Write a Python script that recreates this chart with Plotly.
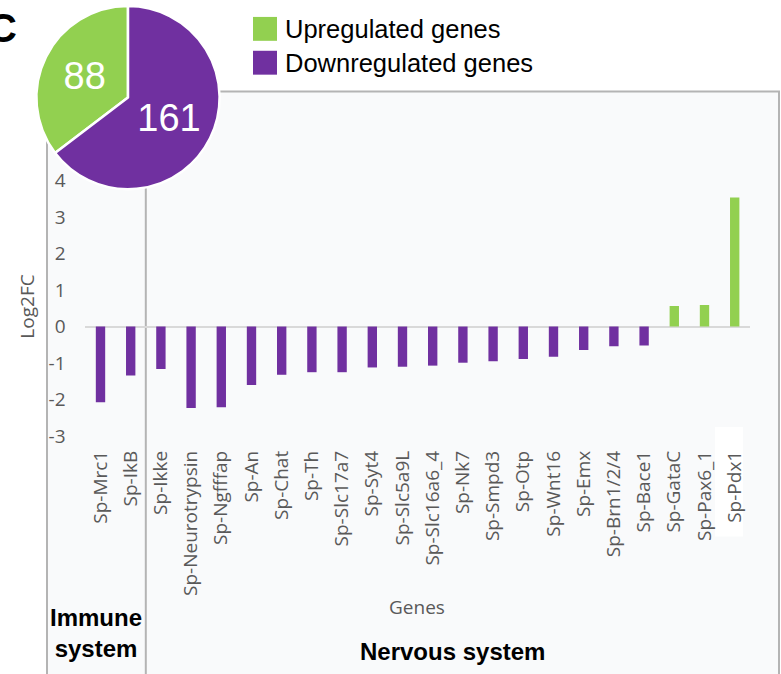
import plotly.graph_objects as go

# ---- data -------------------------------------------------------------
genes = ["Sp-Mrc1", "Sp-IkB", "Sp-Ikke", "Sp-Neurotrypsin", "Sp-Ngfffap", "Sp-An",
         "Sp-Chat", "Sp-Th", "Sp-Slc17a7", "Sp-Syt4", "Sp-Slc5a9L", "Sp-Slc16a6_4",
         "Sp-Nk7", "Sp-Smpd3", "Sp-Otp", "Sp-Wnt16", "Sp-Emx", "Sp-Brn1/2/4",
         "Sp-Bace1", "Sp-GataC", "Sp-Pax6_1", "Sp-Pdx1"]
log2fc = [-2.07, -1.34, -1.16, -2.23, -2.21, -1.60, -1.32, -1.25, -1.25, -1.12, -1.10,
          -1.07, -0.99, -0.95, -0.89, -0.83, -0.64, -0.54, -0.52, 0.56, 0.59, 3.53]
n_immune = 2  # first two genes belong to the immune system

pie_labels = ["Upregulated genes", "Downregulated genes"]
pie_counts = [88, 161]
y_ticks = [-3, -2, -1, 0, 1, 2, 3, 4]

# ---- style ------------------------------------------------------------
W, H = 781, 674
GREEN, PURPLE = "#92d050", "#7030a0"
GREY_TXT = "#595959"
BOX_LINE = "#b4b4b4"
BOX_FILL = "#f9fafb"
AXFONT = "Open Sans"
HEADFONT = "Liberation Sans, Arial"


def px(x):
    return x / W


def py(y):
    return 1 - y / H


# pixel geometry of the value axis
Y_ZERO, UNIT = 328.0, 36.7
Y_BOTTOM, Y_TOP = 448.0, 92.0

fig = go.Figure()

fig.add_trace(go.Bar(
    x=genes, y=log2fc,
    marker=dict(color=[GREEN if v > 0 else PURPLE for v in log2fc], line=dict(width=0)),
    showlegend=False,
))

# upregulated slice sits left of 12 o'clock: rotate back by its own angle
up_angle = 360.0 * pie_counts[0] / sum(pie_counts)
fig.add_trace(go.Pie(
    labels=pie_labels, values=pie_counts,
    marker=dict(colors=[GREEN, PURPLE], line=dict(color="white", width=2.5)),
    sort=False, direction="clockwise", rotation=-up_angle,
    textinfo="value", textposition="inside", insidetextorientation="horizontal",
    textfont=dict(family=HEADFONT, size=38, color="white"),
    domain=dict(x=[px(36), px(220)], y=[py(190), py(6)]),
    showlegend=False,
))

shapes = [
    # framed panel
    dict(type="rect", xref="paper", yref="paper", x0=px(47), x1=px(779), y0=py(700), y1=py(92),
         fillcolor=BOX_FILL, line=dict(color=BOX_LINE, width=2), layer="below"),
    # white patch behind the last gene label
    dict(type="rect", xref="paper", yref="paper", x0=px(715), x1=px(743), y0=py(539), y1=py(429),
         fillcolor="white", line=dict(width=0), layer="below"),
    # immune / nervous separator
    dict(type="line", xref="x", yref="paper", x0=n_immune - 0.5, x1=n_immune - 0.5,
         y0=py(700), y1=py(92), line=dict(color=BOX_LINE, width=2), layer="below"),
    # legend swatches
    dict(type="rect", xref="paper", yref="paper", x0=px(253), x1=px(277), y0=py(41), y1=py(17),
         fillcolor=GREEN, line=dict(width=0)),
    dict(type="rect", xref="paper", yref="paper", x0=px(253), x1=px(277), y0=py(75), y1=py(51),
         fillcolor=PURPLE, line=dict(width=0)),
]


def note(text, x, y, size, family=HEADFONT, color="black", xanchor="center", angle=0):
    return dict(text=text, xref="paper", yref="paper", x=px(x), y=py(y),
                xanchor=xanchor, yanchor="middle", textangle=angle, showarrow=False,
                font=dict(family=family, size=size, color=color))


annotations = [
    note("<b>C</b>", 19, 28, 40, xanchor="right"),
    note(pie_labels[0], 283, 29, 25.5, xanchor="left"),
    note(pie_labels[1], 283, 63, 25.5, xanchor="left"),
    note("Log2FC", 27, 308, 19, family=AXFONT, color=GREY_TXT, angle=-90),
    note("Genes", 417, 610, 19, family=AXFONT, color=GREY_TXT),
    note("<b>Immune<br>system</b>", 96, 636, 24),
    note("<b>Nervous system</b>", 453, 654, 24),
]

fig.update_layout(
    width=W, height=H,
    margin=dict(l=0, r=0, t=0, b=0),
    paper_bgcolor="white", plot_bgcolor="rgba(0,0,0,0)",
    bargap=0.69,
    shapes=shapes, annotations=annotations,
    xaxis=dict(
        domain=[px(85.4), px(749.8)], range=[-0.5, len(genes) - 0.5],
        tickangle=-90, tickfont=dict(family=AXFONT, size=19, color=GREY_TXT),
        ticks="",
        showgrid=False, showline=False, zeroline=False,
    ),
    yaxis=dict(
        domain=[py(Y_BOTTOM), py(Y_TOP)],
        range=[(Y_ZERO - Y_BOTTOM) / UNIT, (Y_ZERO - Y_TOP) / UNIT],
        tickvals=y_ticks, ticktext=[str(v) for v in y_ticks],
        tickfont=dict(family=AXFONT, size=19, color=GREY_TXT),
        ticks="outside", ticklen=15, tickcolor="rgba(0,0,0,0)",
        showgrid=False, showline=False,
        zeroline=True, zerolinecolor="#d9d9d9", zerolinewidth=2,
    ),
)

fig.write_html("out.html")
